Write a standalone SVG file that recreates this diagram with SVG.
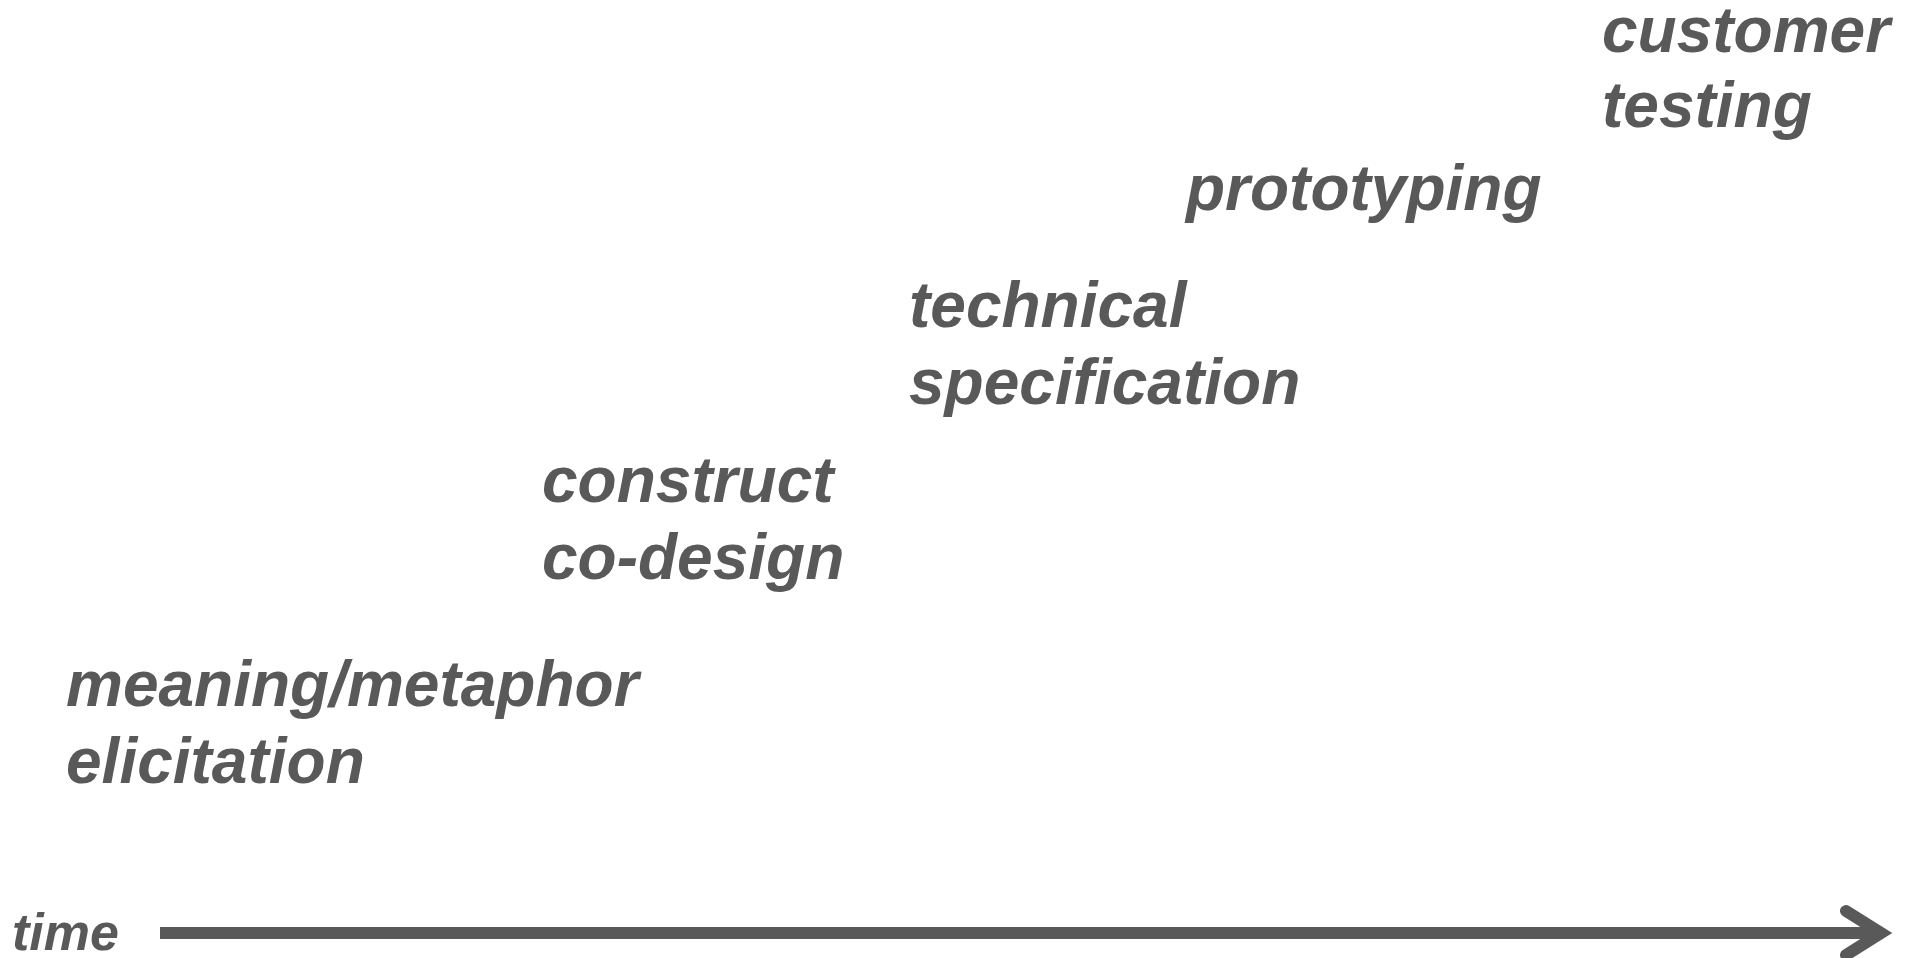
<svg xmlns="http://www.w3.org/2000/svg" width="1915" height="958" viewBox="0 0 1915 958">
<style>
text{font-family:"Liberation Sans",Arial,sans-serif;font-weight:bold;font-style:italic;fill:#595959;font-size:64px}
.t{font-size:52px}
.ax{stroke:#595959;stroke-width:12;fill:none}
</style>
<rect width="1915" height="958" fill="#fff"/>
<g id="connectors">
<line class="ax" x1="160" y1="933" x2="1876" y2="933"/>
<polyline class="ax" points="1846,911 1881,933 1846,955" stroke-linecap="round" stroke-linejoin="miter"/>
</g>
<g id="time"><text class="t" x="12" y="950">time</text></g>
<g id="n1"><text x="66" y="706">meaning/metaphor</text><text x="66" y="783">elicitation</text></g>
<g id="n2"><text x="542" y="502">construct</text><text x="542" y="579">co-design</text></g>
<g id="n3"><text x="909" y="327">technical</text><text x="909" y="404">specification</text></g>
<g id="n4"><text x="1186" y="210">prototyping</text></g>
<g id="n5"><text x="1602" y="52">customer</text><text x="1602" y="127">testing</text></g>
</svg>
